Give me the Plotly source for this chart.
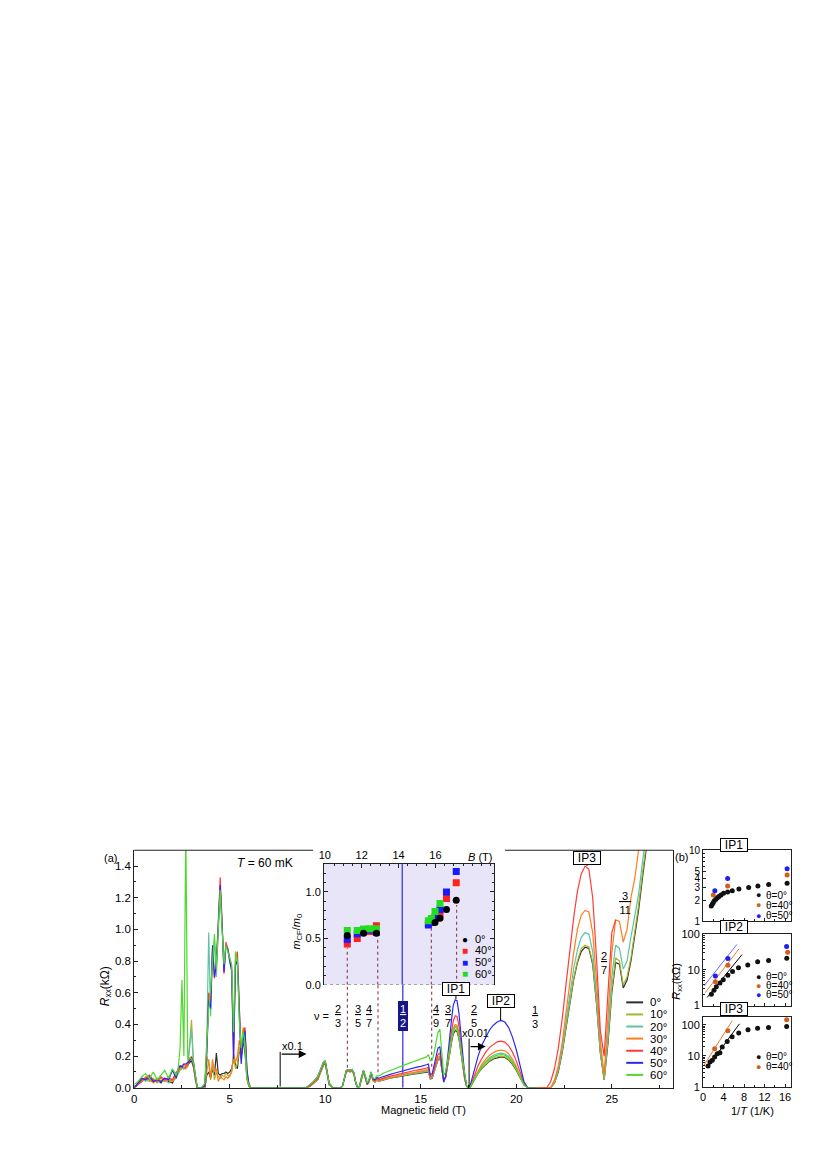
import plotly.graph_objects as go

W, H = 827, 1168
FONT = 'Liberation Sans, Arial, sans-serif'


def fx(px):
    return px / W


def fy(py):
    return 1 - py / H


# ---------------- panel (a): Rxx vs magnetic field, seven tilt angles ----------------
B_FIELD = [
    0.0, 0.2, 0.4, 0.6, 0.8, 1.0, 1.2, 1.4, 1.6, 1.8, 2.0, 2.2,
    2.3, 2.4, 2.5, 2.6, 2.7, 2.8, 2.9, 3.0, 3.1, 3.2, 3.3,
    3.5,
    3.7, 3.8, 3.9, 4.0, 4.1, 4.2, 4.3, 4.4, 4.5, 4.6, 4.7, 4.8, 4.9,
    5.0, 5.1, 5.2, 5.3, 5.4, 5.5, 5.6, 5.7, 5.8, 5.9, 6.0, 6.1, 6.2,
    7.0, 8.0, 8.8,
    9.0, 9.2, 9.4, 9.6, 9.8, 9.9, 10.0, 10.1, 10.2, 10.4, 10.6,
    10.7, 10.8, 10.9, 11.0, 11.1, 11.2, 11.3, 11.4, 11.5, 11.6, 11.7, 11.8,
    11.9, 12.0, 12.1, 12.2, 12.3, 12.4, 12.5, 12.6, 12.7, 12.8, 12.9,
    13.0, 13.2, 13.4, 13.6, 13.8, 14.0, 14.2, 14.4, 14.6, 14.8, 15.0, 15.2,
    15.3, 15.4, 15.5, 15.6, 15.7, 15.8, 15.9, 16.0, 16.1, 16.2, 16.3, 16.4,
    16.5, 16.6, 16.7, 16.8, 16.9, 17.0, 17.1, 17.2, 17.3, 17.4, 17.5, 17.6,
    17.8, 18.0, 18.2, 18.4, 18.6, 18.8, 19.0, 19.2, 19.4, 19.6, 19.8, 20.0,
    20.2, 20.4, 20.6, 20.8, 21.0, 21.2, 21.4, 21.6,
    21.8, 22.0, 22.2, 22.4, 22.6, 22.8, 23.0, 23.2, 23.4, 23.6, 23.8, 24.0,
    24.2, 24.4, 24.6, 24.8, 25.0, 25.2, 25.4, 25.6, 25.8, 26.0, 26.2, 26.4,
    26.6, 26.8, 27.0, 27.2,
]

R_00 = [
    0.00, 0.02, 0.04, 0.06, 0.05, 0.04, 0.05, 0.03, 0.06, 0.04, 0.03, 0.08,
    0.09, 0.12, 0.13, 0.12, 0.13, 0.14, 0.16, 0.17, 0.13, 0.06, 0.00,
    0.00,
    0.00, 0.08, 0.10, 0.06, 0.12, 0.08, 0.22, 0.09, 0.08, 0.09, 0.09, 0.10, 0.09,
    0.10, 0.12, 0.18, 0.15, 0.12, 0.24, 0.20, 0.30, 0.22, 0.06, 0.01, 0.00, 0.00,
    0.00, 0.00, 0.00,
    0.00, 0.01, 0.03, 0.05, 0.11, 0.14, 0.155, 0.09, 0.02, 0.00, 0.00,
    0.00, 0.00, 0.01, 0.05, 0.10, 0.105, 0.10, 0.105, 0.085, 0.03, 0.00, 0.01,
    0.06, 0.10, 0.06, 0.02, 0.04, 0.09, 0.045, 0.035, 0.05, 0.04, 0.045,
    0.05, 0.055, 0.06, 0.065, 0.07, 0.075, 0.08, 0.083, 0.086, 0.089, 0.092, 0.095,
    0.097, 0.10, 0.055, 0.06, 0.10, 0.14, 0.175, 0.19, 0.115, 0.05, 0.065, 0.125,
    0.205, 0.28, 0.34, 0.36, 0.355, 0.31, 0.23, 0.14, 0.055, 0.01, 0.00, 0.005,
    0.05, 0.092, 0.123, 0.148, 0.168, 0.182, 0.191, 0.195, 0.191, 0.176, 0.148, 0.111,
    0.064, 0.018, 0.00, 0.00, 0.00, 0.00, 0.00, 0.00,
    0.00, 0.03, 0.10, 0.22, 0.37, 0.53, 0.68, 0.79, 0.86, 0.888, 0.88, 0.78,
    0.53, 0.22, 0.05, 0.28, 0.60, 0.79, 0.78, 0.63, 0.68, 0.80, 0.96, 1.12,
    1.32, 1.48, 1.68, 1.88,
]

R_10 = [
    0.00, 0.03, 0.05, 0.05, 0.04, 0.06, 0.03, 0.05, 0.04, 0.07, 0.04, 0.06,
    0.10, 0.11, 0.12, 0.13, 0.14, 0.13, 0.30, 0.43, 0.15, 0.05, 0.00,
    0.00,
    0.00, 0.10, 0.18, 0.08, 0.14, 0.05, 0.10, 0.07, 0.06, 0.08, 0.07, 0.09, 0.08,
    0.07, 0.10, 0.20, 0.12, 0.15, 0.26, 0.18, 0.32, 0.25, 0.05, 0.01, 0.00, 0.00,
    0.00, 0.00, 0.00,
    0.00, 0.01, 0.03, 0.05, 0.11, 0.145, 0.16, 0.09, 0.02, 0.00, 0.00,
    0.00, 0.00, 0.01, 0.05, 0.10, 0.105, 0.10, 0.105, 0.085, 0.03, 0.00, 0.01,
    0.06, 0.10, 0.06, 0.02, 0.04, 0.09, 0.045, 0.035, 0.05, 0.04, 0.045,
    0.05, 0.056, 0.062, 0.067, 0.072, 0.077, 0.082, 0.086, 0.09, 0.093, 0.096, 0.10,
    0.10, 0.105, 0.06, 0.065, 0.10, 0.145, 0.18, 0.195, 0.12, 0.05, 0.065, 0.13,
    0.21, 0.29, 0.35, 0.37, 0.365, 0.32, 0.24, 0.14, 0.06, 0.01, 0.00, 0.005,
    0.05, 0.094, 0.126, 0.152, 0.172, 0.186, 0.196, 0.20, 0.196, 0.18, 0.152, 0.114,
    0.066, 0.018, 0.00, 0.00, 0.00, 0.00, 0.00, 0.00,
    0.00, 0.03, 0.11, 0.23, 0.38, 0.54, 0.69, 0.80, 0.88, 0.90, 0.89, 0.79,
    0.54, 0.22, 0.05, 0.30, 0.62, 0.82, 0.80, 0.65, 0.70, 0.82, 0.98, 1.15,
    1.35, 1.50, 1.70, 1.90,
]

R_20 = [
    0.01, 0.02, 0.06, 0.04, 0.07, 0.04, 0.06, 0.04, 0.05, 0.03, 0.05, 0.07,
    0.09, 0.12, 0.13, 0.12, 0.14, 0.15, 0.25, 0.37, 0.17, 0.07, 0.00,
    0.00,
    0.02, 0.30, 0.98, 0.45, 0.85, 0.90, 0.70, 1.00, 1.27, 1.02, 0.75, 0.90, 0.88,
    0.80, 0.74, 0.28, 0.76, 0.82, 0.45, 0.22, 0.33, 0.30, 0.08, 0.02, 0.00, 0.00,
    0.00, 0.00, 0.00,
    0.00, 0.01, 0.03, 0.06, 0.12, 0.15, 0.165, 0.10, 0.03, 0.00, 0.00,
    0.00, 0.00, 0.01, 0.06, 0.105, 0.11, 0.105, 0.11, 0.09, 0.03, 0.00, 0.01,
    0.07, 0.105, 0.065, 0.02, 0.045, 0.095, 0.05, 0.04, 0.055, 0.045, 0.05,
    0.052, 0.058, 0.064, 0.07, 0.075, 0.08, 0.085, 0.089, 0.093, 0.097, 0.10, 0.103,
    0.105, 0.11, 0.06, 0.065, 0.105, 0.15, 0.185, 0.20, 0.12, 0.05, 0.07, 0.135,
    0.22, 0.30, 0.365, 0.39, 0.385, 0.335, 0.25, 0.15, 0.06, 0.01, 0.00, 0.005,
    0.055, 0.10, 0.138, 0.166, 0.19, 0.205, 0.215, 0.219, 0.215, 0.198, 0.167, 0.125,
    0.072, 0.02, 0.00, 0.00, 0.00, 0.00, 0.00, 0.00,
    0.00, 0.04, 0.12, 0.25, 0.41, 0.59, 0.75, 0.87, 0.95, 0.98, 0.97, 0.86,
    0.59, 0.25, 0.07, 0.35, 0.70, 0.90, 0.88, 0.75, 0.80, 0.95, 1.08, 1.22,
    1.42, 1.60, 1.80, 2.00,
]

R_30 = [
    0.00, 0.03, 0.04, 0.07, 0.05, 0.03, 0.05, 0.06, 0.04, 0.05, 0.04, 0.09,
    0.10, 0.12, 0.14, 0.13, 0.12, 0.14, 0.18, 0.20, 0.14, 0.05, 0.00,
    0.00,
    0.00, 0.20, 0.15, 0.05, 0.18, 0.10, 0.12, 0.04, 0.07, 0.06, 0.05, 0.07, 0.06,
    0.08, 0.10, 0.22, 0.16, 0.20, 0.30, 0.24, 0.38, 0.35, 0.08, 0.02, 0.00, 0.00,
    0.00, 0.00, 0.00,
    0.00, 0.01, 0.03, 0.06, 0.12, 0.15, 0.16, 0.10, 0.03, 0.00, 0.00,
    0.00, 0.00, 0.01, 0.06, 0.105, 0.11, 0.105, 0.11, 0.09, 0.03, 0.00, 0.01,
    0.07, 0.105, 0.065, 0.02, 0.045, 0.095, 0.05, 0.04, 0.055, 0.045, 0.05,
    0.053, 0.06, 0.066, 0.072, 0.078, 0.083, 0.088, 0.092, 0.096, 0.10, 0.104, 0.107,
    0.11, 0.115, 0.065, 0.07, 0.11, 0.155, 0.19, 0.20, 0.12, 0.05, 0.07, 0.14,
    0.23, 0.31, 0.375, 0.40, 0.395, 0.34, 0.26, 0.15, 0.06, 0.01, 0.00, 0.005,
    0.06, 0.11, 0.15, 0.18, 0.205, 0.222, 0.233, 0.238, 0.233, 0.215, 0.18, 0.135,
    0.08, 0.02, 0.00, 0.00, 0.00, 0.00, 0.00, 0.00,
    0.00, 0.05, 0.14, 0.28, 0.47, 0.67, 0.85, 1.00, 1.09, 1.12, 1.11, 0.98,
    0.68, 0.30, 0.08, 0.45, 0.85, 1.06, 1.05, 0.92, 1.00, 1.20, 1.32, 1.50,
    1.75, 2.00, 2.20, 2.40,
]

R_40 = [
    0.01, 0.02, 0.05, 0.06, 0.08, 0.05, 0.04, 0.07, 0.05, 0.06, 0.05, 0.10,
    0.11, 0.13, 0.14, 0.15, 0.14, 0.15, 0.18, 0.19, 0.16, 0.08, 0.00,
    0.00,
    0.01, 0.25, 0.60, 0.55, 0.88, 0.69, 0.80, 1.05, 1.33, 1.05, 0.72, 0.92, 0.88,
    0.82, 0.76, 0.20, 0.80, 0.86, 0.50, 0.18, 0.35, 0.38, 0.10, 0.03, 0.00, 0.00,
    0.00, 0.00, 0.00,
    0.00, 0.01, 0.04, 0.06, 0.12, 0.155, 0.165, 0.10, 0.03, 0.00, 0.00,
    0.00, 0.00, 0.01, 0.06, 0.105, 0.11, 0.105, 0.11, 0.09, 0.03, 0.00, 0.01,
    0.07, 0.11, 0.07, 0.02, 0.05, 0.095, 0.05, 0.045, 0.06, 0.05, 0.055,
    0.06, 0.067, 0.074, 0.08, 0.086, 0.092, 0.097, 0.102, 0.107, 0.112, 0.116, 0.12,
    0.125, 0.13, 0.07, 0.075, 0.12, 0.17, 0.21, 0.22, 0.13, 0.04, 0.07, 0.15,
    0.25, 0.35, 0.42, 0.455, 0.45, 0.39, 0.29, 0.17, 0.07, 0.01, 0.00, 0.01,
    0.075, 0.14, 0.185, 0.225, 0.255, 0.275, 0.29, 0.294, 0.288, 0.265, 0.225, 0.17,
    0.10, 0.03, 0.00, 0.00, 0.00, 0.00, 0.00, 0.00,
    0.04, 0.12, 0.25, 0.43, 0.65, 0.87, 1.07, 1.24, 1.35, 1.40, 1.38, 1.20,
    0.82, 0.36, 0.20, 0.60, 0.98, 1.06, None, None, None, None, None, None,
    None, None, None, None,
]

R_50 = [
    0.00, 0.03, 0.06, 0.05, 0.07, 0.04, 0.05, 0.04, 0.06, 0.05, 0.11, 0.06,
    0.12, 0.14, 0.13, 0.15, 0.15, 0.16, 0.17, 0.19, 0.15, 0.07, 0.00,
    0.00,
    0.01, 0.22, 0.55, 0.50, 0.90, 0.70, 0.78, 1.02, 1.28, 1.03, 0.73, 0.90, 0.87,
    0.80, 0.74, 0.18, 0.78, 0.80, 0.45, 0.15, 0.30, 0.36, 0.12, 0.02, 0.00, 0.00,
    0.00, 0.00, 0.00,
    0.00, 0.02, 0.04, 0.07, 0.13, 0.16, 0.17, 0.11, 0.03, 0.00, 0.00,
    0.00, 0.00, 0.01, 0.06, 0.11, 0.115, 0.11, 0.115, 0.095, 0.03, 0.00, 0.01,
    0.07, 0.11, 0.07, 0.025, 0.05, 0.10, 0.055, 0.05, 0.065, 0.06, 0.065,
    0.07, 0.077, 0.085, 0.092, 0.099, 0.106, 0.112, 0.118, 0.124, 0.13, 0.135, 0.14,
    0.145, 0.15, 0.08, 0.09, 0.14, 0.20, 0.25, 0.26, 0.15, 0.035, 0.07, 0.17,
    0.30, 0.42, 0.52, 0.555, 0.55, 0.47, 0.35, 0.20, 0.08, 0.01, 0.00, 0.02,
    0.11, 0.20, 0.27, 0.32, 0.365, 0.395, 0.415, 0.425, 0.415, 0.38, 0.32, 0.24,
    0.14, 0.04, 0.00, 0.00, 0.00, None, None, None,
    None, None, None, None, None, None, None, None, None, None, None, None,
    None, None, None, None, None, None, None, None, None, None, None, None,
    None, None, None, None,
]

R_60 = [
    0.02, 0.04, 0.07, 0.09, 0.06, 0.10, 0.05, 0.08, 0.11, 0.06, 0.12, 0.08,
    0.12, 0.25, 0.68, 0.20, 1.65, 0.18, 0.19, 0.18, 0.16, 0.08, 0.00,
    0.00,
    0.03, 0.28, 0.50, 0.62, 0.80, 0.97, 0.75, 1.00, 1.25, 1.00, 0.78, 0.90, 0.86,
    0.82, 0.78, 0.35, 0.86, 0.80, 0.42, 0.25, 0.36, 0.28, 0.06, 0.02, 0.00, 0.00,
    0.00, 0.00, 0.00,
    0.00, 0.02, 0.04, 0.07, 0.13, 0.16, 0.17, 0.11, 0.03, 0.00, 0.00,
    0.00, 0.00, 0.01, 0.06, 0.11, 0.115, 0.11, 0.115, 0.095, 0.03, 0.00, 0.01,
    0.07, 0.11, 0.075, 0.03, 0.055, 0.10, 0.06, 0.06, 0.075, 0.075, 0.08,
    0.09, 0.10, 0.11, 0.12, 0.13, 0.14, 0.148, 0.156, 0.164, 0.172, 0.18, 0.188,
    0.195, 0.21, 0.17, 0.175, 0.22, 0.29, 0.35, 0.37, 0.22, 0.08, 0.10, 0.16,
    0.24, 0.31, 0.37, 0.383, 0.375, 0.33, 0.25, 0.15, 0.06, 0.01, 0.00, 0.01,
    0.053, 0.097, 0.133, 0.16, 0.182, 0.196, 0.206, 0.21, 0.206, 0.19, 0.16, 0.12,
    0.07, 0.02, 0.00, 0.00, 0.00, None, None, None,
    None, None, None, None, None, None, None, None, None, None, None, None,
    None, None, None, None, None, None, None, None, None, None, None, None,
    None, None, None, None,
]

ANGLES = ['0°', '10°', '20°', '30°', '40°', '50°', '60°']
ANGLE_COLORS = ['#2e2e2e', '#a5b52c', '#5cc4a2', '#ff7b1c', '#ff3a3a', '#2a2af0', '#4cdb2a']
SERIES = [R_00, R_10, R_20, R_30, R_40, R_50, R_60]

for name, r in zip(ANGLES, SERIES):
    if len(r) != len(B_FIELD):
        raise ValueError(f'{name}: {len(r)} values for {len(B_FIELD)} fields')

# filling-factor labels (x in T, y in kOhm)
NU_LABELS = ['2/3', '3/5', '4/7', '4/9', '3/7', '2/5', '1/3', '2/7', '3/11']
NU_X = [10.68, 11.72, 12.28, 15.80, 16.44, 17.80, 20.97, 24.57, 25.69]
NU_Y = [0.455, 0.455, 0.455, 0.455, 0.455, 0.455, 0.445, 0.79, 1.165]

# ---------------- inset: composite-fermion mass ----------------
INSET_B_00 = [11.22, 12.10, 12.80, 15.98, 16.25, 16.60, 17.13]
INSET_M_00 = [0.53, 0.556, 0.556, 0.67, 0.716, 0.81, 0.91]
INSET_B_40 = [11.22, 11.76, 12.10, 12.43, 12.80, 15.62, 15.78, 15.98, 16.25, 16.60, 17.13]
INSET_M_40 = [0.44, 0.50, 0.57, 0.575, 0.635, 0.66, 0.68, 0.73, 0.76, 0.93, 1.10]
INSET_B_50 = [11.22, 11.76, 12.10, 12.43, 12.80, 15.62, 15.78, 15.98, 16.25, 16.60, 17.13]
INSET_M_50 = [0.49, 0.55, 0.58, 0.59, 0.565, 0.645, 0.67, 0.715, 0.81, 1.00, 1.22]
INSET_B_60 = [11.22, 11.76, 12.10, 12.43, 12.80, 15.62, 15.78, 15.98, 16.25]
INSET_M_60 = [0.585, 0.585, 0.60, 0.605, 0.605, 0.69, 0.715, 0.79, 0.875]

# dotted guides: inset part (inset B, top value) and main part (main B, bottom value)
GUIDE_INSET_B = [11.22, 12.87, 15.78, 17.15]
GUIDE_INSET_TOP = [0.40, 0.52, 0.61, 0.86]
GUIDE_MAIN_B = [11.16, 12.76, 15.57]
GUIDE_MAIN_BOTTOM = [0.127, 0.098, 0.133]

# ---------------- panel (b): Arrhenius plots ----------------
IP1_X_00 = [1.6, 1.8, 2.0, 2.2, 2.5, 2.8, 3.1, 3.5, 4.0, 4.8, 5.7, 7.0, 8.9, 10.7, 12.8, 16.4]
IP1_R_00 = [1.65, 1.75, 1.85, 1.95, 2.05, 2.15, 2.25, 2.35, 2.5, 2.6, 2.7, 2.85, 3.0, 3.15, 3.3, 3.45]
IP1_X_40 = [2.0, 4.8, 16.4]
IP1_R_40 = [2.36, 3.14, 4.5]
IP1_X_50 = [2.3, 4.8, 16.4]
IP1_R_50 = [2.7, 4.0, 5.5]

IP2_X_00 = [1.62, 2.14, 2.59, 3.3, 3.94, 4.84, 5.75, 6.91, 8.72, 10.65, 12.78, 16.33]
IP2_R_00 = [2.1, 2.7, 3.4, 4.3, 5.3, 7.1, 9.0, 11.6, 13.8, 17.0, 18.6, 21.5]
IP2_X_40 = [2.4, 4.84, 16.5]
IP2_R_40 = [4.7, 13.5, 31.6]
IP2_X_50 = [2.4, 4.84, 16.3]
IP2_R_50 = [6.8, 21.1, 46.0]
IP2_FIT_X_00, IP2_FIT_R_00 = [0.8, 7.6], [1.7, 27.0]
IP2_FIT_X_40, IP2_FIT_R_40 = [0.4, 7.0], [2.3, 39.0]
IP2_FIT_X_50, IP2_FIT_R_50 = [0.2, 6.6], [3.6, 52.0]

IP3_X_00 = [0.97, 1.36, 1.81, 2.26, 2.77, 3.29, 3.74, 4.71, 5.67, 6.96, 8.77, 10.64, 12.77, 16.31]
IP3_R_00 = [4.7, 6.3, 7.2, 9.2, 11.7, 12.6, 19.1, 29.2, 41.0, 55.0, 69.0, 78.0, 82.0, 88.0]
IP3_X_40 = [2.26, 4.84, 16.31]
IP3_R_40 = [17.0, 64.0, 145.0]
IP3_FIT_X_00, IP3_FIT_R_00 = [0.8, 7.1], [4.1, 108.0]
IP3_FIT_X_40, IP3_FIT_R_40 = [0.2, 5.7], [5.0, 137.0]

C_B0, C_B40, C_B50 = '#111111', '#d2601c', '#1f1ff0'

fig = go.Figure()

# main curves
for name, col, r in zip(ANGLES, ANGLE_COLORS, SERIES):
    fig.add_trace(go.Scatter(
        x=B_FIELD, y=r, mode='lines', name=name, showlegend=False,
        line=dict(color=col, width=1.2), xaxis='x', yaxis='y'
    ))

# inset markers
inset_sets = [
    (INSET_B_40, INSET_M_40, '#ff2020', 'square'),
    (INSET_B_50, INSET_M_50, '#1a1aff', 'square'),
    (INSET_B_60, INSET_M_60, '#22dd22', 'square'),
    (INSET_B_00, INSET_M_00, '#000000', 'circle'),
]
for bx, my, col, sym in inset_sets:
    fig.add_trace(go.Scatter(
        x=bx, y=my, mode='markers', showlegend=False,
        marker=dict(color=col, symbol=sym, size=7, line=dict(width=0)),
        xaxis='x2', yaxis='y2'
    ))


# panel (b)
def add_pts(x, y, col, xa, ya, size=5):
    fig.add_trace(go.Scatter(x=x, y=y, mode='markers', showlegend=False,
                             marker=dict(color=col, size=size), xaxis=xa, yaxis=ya))


def add_fit(x, y, col, xa, ya):
    fig.add_trace(go.Scatter(x=x, y=y, mode='lines', showlegend=False,
                             line=dict(color=col, width=1), xaxis=xa, yaxis=ya))


add_pts(IP1_X_00, IP1_R_00, C_B0, 'x3', 'y3')
add_pts(IP1_X_40, IP1_R_40, C_B40, 'x3', 'y3')
add_pts(IP1_X_50, IP1_R_50, C_B50, 'x3', 'y3')

add_fit(IP2_FIT_X_00, IP2_FIT_R_00, '#000000', 'x4', 'y4')
add_fit(IP2_FIT_X_40, IP2_FIT_R_40, '#f07a2a', 'x4', 'y4')
add_fit(IP2_FIT_X_50, IP2_FIT_R_50, '#6a6aff', 'x4', 'y4')
add_pts(IP2_X_00, IP2_R_00, C_B0, 'x4', 'y4')
add_pts(IP2_X_40, IP2_R_40, C_B40, 'x4', 'y4')
add_pts(IP2_X_50, IP2_R_50, C_B50, 'x4', 'y4')

add_fit(IP3_FIT_X_00, IP3_FIT_R_00, '#000000', 'x5', 'y5')
add_fit(IP3_FIT_X_40, IP3_FIT_R_40, '#f07a2a', 'x5', 'y5')
add_pts(IP3_X_00, IP3_R_00, C_B0, 'x5', 'y5')
add_pts(IP3_X_40, IP3_R_40, C_B40, 'x5', 'y5')

# ---------------- axes ----------------
MAIN_X = [0, 28.2]
INSET_X = [9.96, 19.18]
INSET_Y = [0, 1.3]
AXC = '#222222'


def frame(**kw):
    base = dict(showgrid=False, zeroline=False, showline=True, linecolor=AXC,
                linewidth=1, ticks='inside', tickcolor=AXC, tickwidth=1,
                tickfont=dict(size=11, color='black'))
    base.update(kw)
    return base


b_x = [fx(702.3), fx(791)]
b_minor_log = dict(tickvals=[2, 3, 4, 5, 6, 7, 8, 9, 20, 30, 40, 50, 60, 70, 80, 90],
                   ticks='inside', ticklen=2, tickcolor=AXC)

fig.update_layout(
    xaxis=frame(domain=[fx(130), fx(672)], range=MAIN_X, anchor='y',
                tickvals=[0, 5, 10, 15, 20, 25], ticklen=4, tickfont=dict(size=11.5),
                minor=dict(dtick=2.5, ticks='inside', ticklen=3, tickcolor=AXC)),
    yaxis=frame(domain=[fy(1093), fy(853)], range=[0, 1.5], anchor='x',
                dtick=0.2, tickformat='.1f', ticklen=4, mirror=True, tickfont=dict(size=11.5),
                minor=dict(dtick=0.1, ticks='inside', ticklen=2, tickcolor=AXC)),
    xaxis2=frame(domain=[fx(321), fx(492)], range=INSET_X, anchor='y2', side='top',
                 tickvals=[10, 12, 14, 16], ticklen=4,
                 minor=dict(dtick=0.5, ticks='inside', ticklen=2, tickcolor=AXC)),
    yaxis2=frame(domain=[fy(989), fy(867)], range=INSET_Y, anchor='x2',
                 tickvals=[0, 0.5, 1.0], ticktext=['0.0', '0.5', '1.0'],
                 ticklen=4, mirror='ticks',
                 minor=dict(dtick=0.1, ticks='inside', ticklen=2, tickcolor=AXC)),
    xaxis3=frame(domain=b_x, range=[0, 17.2], anchor='y3', tickvals=[0, 4, 8, 12, 16],
                 showticklabels=False, ticklen=3, mirror=True,
                 minor=dict(dtick=2, ticks='inside', ticklen=2, tickcolor=AXC)),
    yaxis3=frame(domain=[fy(925), fy(853)], type='log', range=[0, 1], anchor='x3',
                 tickvals=[1, 2, 3, 4, 5, 10], ticklen=3, mirror=True,
                 tickfont=dict(size=10), minor=b_minor_log),
    xaxis4=frame(domain=b_x, range=[0, 17.2], anchor='y4', tickvals=[0, 4, 8, 12, 16],
                 showticklabels=False, ticklen=3, mirror=True,
                 minor=dict(dtick=2, ticks='inside', ticklen=2, tickcolor=AXC)),
    yaxis4=frame(domain=[fy(1010), fy(938)], type='log', range=[0, 2], anchor='x4',
                 tickvals=[1, 10, 100], ticklen=3, mirror=True, minor=b_minor_log),
    xaxis5=frame(domain=b_x, range=[0, 17.2], anchor='y5', tickvals=[0, 4, 8, 12, 16],
                 ticklen=3, mirror=True,
                 minor=dict(dtick=2, ticks='inside', ticklen=2, tickcolor=AXC)),
    yaxis5=frame(domain=[fy(1092), fy(1021)], type='log', range=[0, 2.27], anchor='x5',
                 tickvals=[1, 10, 100], ticklen=3, mirror=True, minor=b_minor_log),
)

# ---------------- shapes ----------------
shapes = []
# inset background and guides (drawn inside the inset subplot)
shapes.append(dict(type='rect', xref='x2', yref='y2', x0=INSET_X[0], x1=INSET_X[1],
                   y0=INSET_Y[0], y1=INSET_Y[1], layer='below',
                   fillcolor='#e8e5f8', line=dict(width=0)))
shapes.append(dict(type='line', xref='x2', yref='y2', x0=INSET_X[0], x1=INSET_X[1],
                   y0=0, y1=0, layer='below', line=dict(color='#555555', width=1, dash='dot')))
shapes.append(dict(type='line', xref='x2', yref='y2', x0=14.2, x1=14.2, y0=0, y1=INSET_Y[1],
                   layer='below', line=dict(color='#2a2ad8', width=1.2)))
for bx, top in zip(GUIDE_INSET_B, GUIDE_INSET_TOP):
    shapes.append(dict(type='line', xref='x2', yref='y2', x0=bx, x1=bx, y0=0, y1=top,
                       layer='below', line=dict(color='#8c4a5c', width=1.2, dash='dot')))
# main-panel guides
inset_bottom_r = (1093 - 989) / 160
shapes.append(dict(type='line', xref='x', yref='y', x0=14.06, x1=14.06, y0=0, y1=inset_bottom_r,
                   layer='below', line=dict(color='#2a2ad8', width=1.2)))
for bx, bot in zip(GUIDE_MAIN_B, GUIDE_MAIN_BOTTOM):
    shapes.append(dict(type='line', xref='x', yref='y', x0=bx, x1=bx, y0=bot, y1=inset_bottom_r,
                       layer='below', line=dict(color='#8c4a5c', width=1.2, dash='dot')))
# scale-change markers
shapes.append(dict(type='line', xref='x', yref='y', x0=7.64, x1=7.64, y0=0.008, y1=0.227,
                   line=dict(color='black', width=1)))
shapes.append(dict(type='line', xref='x', yref='y', x0=17.53, x1=17.53, y0=0.006, y1=0.31,
                   line=dict(color='black', width=1)))
# top border of panel (a), interrupted by the inset
for a, b in [(130, 310), (503, 672)]:
    shapes.append(dict(type='line', xref='paper', yref='paper', x0=fx(a), x1=fx(b),
                       y0=fy(853), y1=fy(853), line=dict(color=AXC, width=1)))
# legend lines of panel (a)
LEG_ROWS = [1006.7, 1018.9, 1031.1, 1043.3, 1055.6, 1067.8, 1080.0]
for py, col in zip(LEG_ROWS, ANGLE_COLORS):
    shapes.append(dict(type='line', xref='paper', yref='paper', x0=fx(625), x1=fx(642),
                       y0=fy(py), y1=fy(py), line=dict(color=col, width=2)))

# ---------------- annotations ----------------
ann = []


def note(text, px, py, size=12, xanchor='center', **kw):
    ann.append(dict(text=text, x=fx(px), y=fy(py), xref='paper', yref='paper',
                    showarrow=False, xanchor=xanchor, yanchor='middle',
                    font=dict(size=size, color=kw.pop('color', 'black')), **kw))


note('(a)', 106, 861, size=11)
note('<i>T</i> = 60 mK', 262, 866)
note('<i>R</i><sub>xx</sub>(kΩ)', 101, 990, textangle=-90)
note('Magnetic field (T)', 421, 1115, size=11)
note('<i>m</i><sub>CF</sub>/<i>m</i><sub>0</sub>', 294, 935, size=11, textangle=-90)
note('<i>B</i> (T)', 492, 860, size=11, xanchor='right')
note('ν =', 318, 1020, size=11)
note('x0.1', 277, 1051, size=11, xanchor='left')
note('x0.01', 473, 1038, size=11)

for label, py in zip(ANGLES, LEG_ROWS):
    note(label, 647, py, size=11.5, xanchor='left')

INSET_LEG = [('●', '#000000', '0°'), ('■', '#ff2020', '40°'),
             ('■', '#1a1aff', '50°'), ('■', '#22dd22', '60°')]
for (glyph, col, lab), py in zip(INSET_LEG, [942.7, 954.3, 966.0, 977.7]):
    note(glyph, 463.3, py, size=10, color=col)
    note(lab, 471, py, size=11, xanchor='left')

# fractions
for lab, x, y in zip(NU_LABELS, NU_X, NU_Y):
    num, den = lab.split('/')
    if len(den) > len(num):
        num = '\u00a0' + num + '\u00a0'
    ann.append(dict(text=f'<u>{num}</u><br>{den}', x=x, y=y, xref='x', yref='y',
                    showarrow=False, font=dict(size=11, color='black')))
ann.append(dict(text='<u>1</u><br>2', x=14.06, y=0.456, xref='x', yref='y', showarrow=False,
                bgcolor='#16168a', bordercolor='#16168a', borderpad=1,
                font=dict(size=11, color='white')))

# peak labels in panel (a)
for lab, x, y, off in [('IP1', 16.84, 0.56, -10), ('IP2', 19.18, 0.425, -19), ('IP3', 23.7, 1.40, -8)]:
    ann.append(dict(text=lab, x=x, y=y, xref='x', yref='y', showarrow=True, arrowhead=0,
                    arrowwidth=1, arrowcolor='black', ax=0, ay=off, standoff=0,
                    bordercolor='black', borderwidth=1, bgcolor='white', borderpad=0,
                    width=26, height=12, font=dict(size=12, color='black')))

# scale-change arrows
for x0, x1, y in [(7.64, 9.02, 0.2125), (17.53, 18.40, 0.26)]:
    ann.append(dict(text='', x=x1, y=y, ax=x0, ay=y, xref='x', yref='y', axref='x', ayref='y',
                    showarrow=True, arrowhead=2, arrowsize=1.3, arrowwidth=1.2,
                    arrowcolor='black', standoff=0))

# panel (b) labels
note('(b)', 681, 860, size=11)
for lab, py in [('IP1', 855), ('IP2', 938), ('IP3', 1020)]:
    ann.append(dict(text=lab, x=fx(747.5), y=fy(py), xref='paper', yref='paper', showarrow=False,
                    bordercolor='black', borderwidth=1, bgcolor='white', borderpad=0,
                    width=26, height=12, font=dict(size=12, color='black')))
note('<i>R</i><sub>xx</sub>(kΩ)', 676, 985, size=11, textangle=-90)
note('1/<i>T</i> (1/K)', 752, 1116, size=11)

B_LEG = {
    'IP1': [(C_B0, 'θ=0°', 898.3), (C_B40, 'θ=40°', 908.7), (C_B50, 'θ=50°', 919.0)],
    'IP2': [(C_B0, 'θ=0°', 980.7), (C_B40, 'θ=40°', 990.0), (C_B50, 'θ=50°', 999.0)],
    'IP3': [(C_B0, 'θ=0°', 1061.7), (C_B40, 'θ=40°', 1071.7)],
}
for rows in B_LEG.values():
    for col, lab, py in rows:
        note('●', 758.5, py, size=9, color=col)
        note(lab, 763.5, py, size=10, xanchor='left')

fig.update_layout(
    width=W, height=H, autosize=False,
    margin=dict(l=0, r=0, t=0, b=0),
    paper_bgcolor='white', plot_bgcolor='white',
    font=dict(family=FONT, size=12, color='black'),
    showlegend=False,
    shapes=shapes,
    annotations=ann,
)

# the page's default body margin would shift the fixed-size figure
fig.write_html('out.html', config={'displayModeBar': False},
               post_script="document.body.style.margin='0px';")
